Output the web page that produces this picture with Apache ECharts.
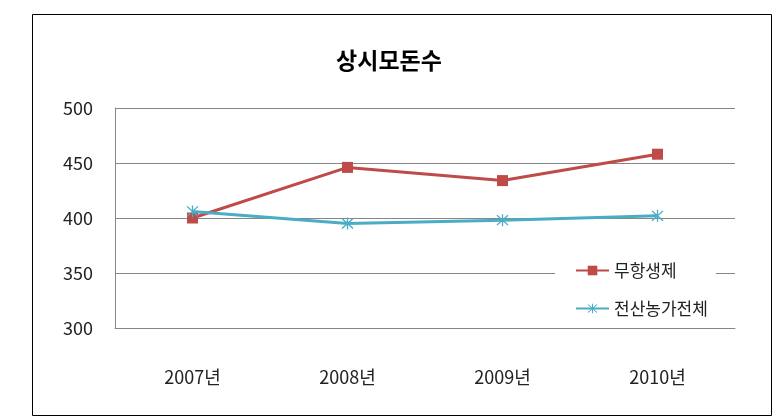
<!DOCTYPE html>
<html><head><meta charset="utf-8">
<script src="https://cdn.jsdelivr.net/npm/echarts@6/dist/echarts.min.js"></script>
<style>html,body{margin:0;padding:0;background:#fff}#c{width:778px;height:418px}</style>
</head><body><div id="c"></div>
<script>
const categories = ['2007년','2008년','2009년','2010년'];
const seriesNames = ['무항생제','전산농가전체'];
const antibioticFree = [400, 446, 434, 458];
const allFarms = [406, 395, 398, 402];
const yTicks = [300, 350, 400, 450, 500];

const starPath = 'path://M9 0 L11 0 L11 20 L9 20 Z M1 2.4 L2.4 1 L19 17.6 L17.6 19 Z M17.6 1 L19 2.4 L2.4 19 L1 17.6 Z';
const font = '"Noto Sans CJK KR", "Noto Sans", sans-serif';
const chart = echarts.init(document.getElementById('c'));
chart.setOption({
  animation: false,
  backgroundColor: '#fff',
  graphic: [{type:'rect', left:30, top:12, shape:{width:739, height:401}, style:{fill:'none', stroke:'#000', lineWidth:1}, z:-1}],
  title: {text:'상시모돈수', left:'center', top:44, textStyle:{fontFamily:font, fontSize:23, fontWeight:'bold', color:'#000'}},
  grid: {left:115, right:43, top:108, bottom:90},
  legend: {
    orient:'vertical', left:555, top:258, padding:[4,8,4,20], itemGap:21,
    backgroundColor:'#fff', itemWidth:33, itemHeight:12,
    textStyle:{fontFamily:font, fontSize:17, color:'#222'},
    data: seriesNames
  },
  xAxis: {
    type:'category', data:categories, boundaryGap:true,
    axisLine:{lineStyle:{color:'#868686', width:1}}, axisTick:{show:false},
    axisLabel:{margin:40, fontFamily:font, fontSize:18, color:'#222'}
  },
  yAxis: {
    type:'value', min:yTicks[0], max:yTicks[yTicks.length-1], interval:50,
    axisLine:{show:true, lineStyle:{color:'#868686', width:1}}, axisTick:{show:false},
    splitLine:{lineStyle:{color:'#868686', width:1}},
    axisLabel:{margin:22, fontFamily:font, fontSize:18, color:'#222'}
  },
  series: [
    {name:seriesNames[0], type:'line', data:antibioticFree, symbol:'rect', symbolSize:11,
     lineStyle:{color:'#BE4B48', width:3}, itemStyle:{color:'#BE4B48'}, z:2},
    {name:seriesNames[1], type:'line', data:allFarms, symbol:starPath, symbolSize:12,
     lineStyle:{color:'#4BACC6', width:3}, itemStyle:{color:'#4BACC6'}, z:3}
  ]
});
</script></body></html>
